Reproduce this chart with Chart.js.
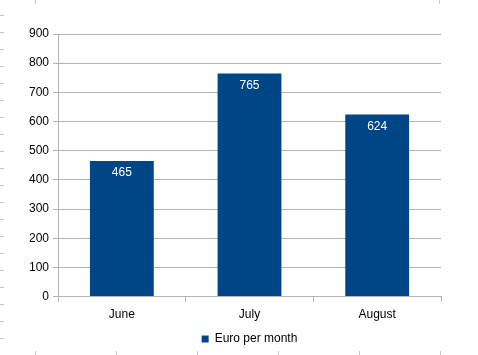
<!DOCTYPE html>
<html>
<head>
<meta charset="utf-8">
<script src="https://cdn.jsdelivr.net/npm/chart.js@4/dist/chart.umd.min.js"></script>
<style>
  html, body { margin: 0; padding: 0; background: #ffffff; }
  #wrap { width: 478px; height: 355px; position: relative; }
</style>
</head>
<body>
<div id="wrap"><canvas id="c" width="478" height="355"></canvas></div>
<script>
const categories = ["June", "July", "August"];
const seriesName = "Euro per month";
const values = [465, 765, 624];
const yTicks = [0, 100, 200, 300, 400, 500, 600, 700, 800, 900];

const FONT = "'Liberation Sans', Arial, sans-serif";
const GRID = "#b3b3b3";
const BAR = "#004586";

const valueLabels = {
  id: "valueLabels",
  afterDatasetsDraw(chart) {
    const ctx = chart.ctx;
    const meta = chart.getDatasetMeta(0);
    ctx.save();
    ctx.fillStyle = "#ffffff";
    ctx.font = "12px " + FONT;
    ctx.textAlign = "center";
    ctx.textBaseline = "middle";
    meta.data.forEach((bar, i) => {
      ctx.fillText(String(values[i]), bar.x, bar.y + 12);
    });
    ctx.restore();
  }
};

const pageMarks = {
  id: "pageMarks",
  afterDraw(chart) {
    const ctx = chart.ctx;
    ctx.save();
    ctx.strokeStyle = "#c8c8c8";
    ctx.lineWidth = 1;
    ctx.beginPath();
    for (let y = 15; y < 350; y += 17) { ctx.moveTo(0, y + 0.5); ctx.lineTo(4, y + 0.5); }
    [35, 439].forEach(x => { ctx.moveTo(x + 0.5, 0); ctx.lineTo(x + 0.5, 4); });
    for (let x = 35; x < 478; x += 81) { ctx.moveTo(x + 0.5, 351); ctx.lineTo(x + 0.5, 355); }
    ctx.stroke();
    ctx.restore();
  }
};

new Chart(document.getElementById("c"), {
  type: "bar",
  data: {
    labels: categories,
    datasets: [{
      label: seriesName,
      data: values,
      backgroundColor: BAR,
      borderWidth: 0,
      barPercentage: 0.5,
      categoryPercentage: 1.0
    }]
  },
  options: {
    responsive: false,
    animation: false,
    devicePixelRatio: 1,
    layout: { padding: { left: 25, right: 37, top: 34, bottom: 0 } },
    plugins: {
      tooltip: { enabled: false },
      legend: {
        position: "bottom",
        fullSize: false,
        labels: {
          boxWidth: 7,
          boxHeight: 7,
          padding: 5,
          color: "#000000",
          font: { family: FONT, size: 12 }
        }
      }
    },
    scales: {
      x: {
        offset: true,
        grid: {
          offset: true,
          drawOnChartArea: true,
          color: (c) => (c.index === 0 || c.index === categories.length) ? GRID : "rgba(0,0,0,0)",
          tickColor: GRID,
          tickLength: 5,
          lineWidth: 1
        },
        border: { display: true, color: GRID },
        ticks: { color: "#000000", font: { family: FONT, size: 12 }, padding: 6 }
      },
      y: {
        min: 0,
        max: 900,
        afterBuildTicks: (axis) => { axis.ticks = yTicks.map(v => ({ value: v })); },
        grid: { color: GRID, tickColor: GRID, tickLength: 5, lineWidth: 1 },
        border: { display: true, color: GRID },
        ticks: { color: "#000000", font: { family: FONT, size: 12 }, padding: 4 }
      }
    }
  },
  plugins: [valueLabels, pageMarks]
});
</script>
</body>
</html>
